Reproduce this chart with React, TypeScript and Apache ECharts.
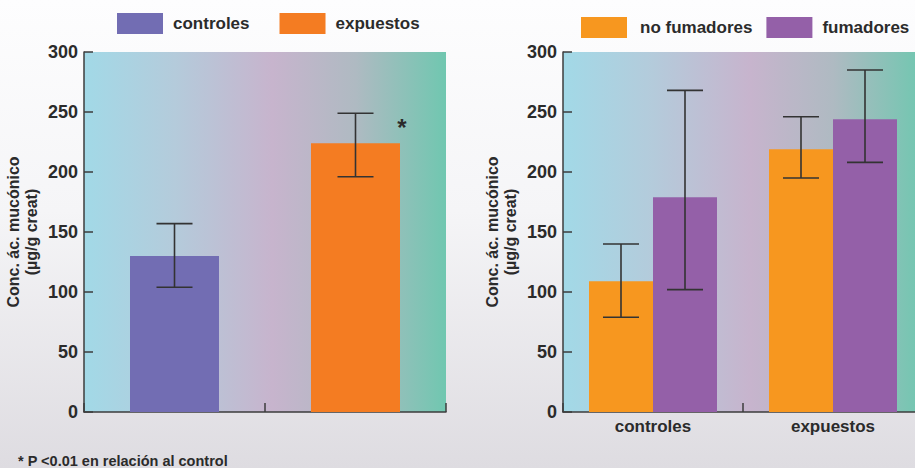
import React, { useEffect, useRef } from "react";
import * as echarts from "echarts";

// Left chart data
const leftCategories = ["controles", "expuestos"];
const leftMeans = [130, 224];
const leftLow = [104, 196];
const leftHigh = [157, 249];

// Right chart data
const rightCategories = ["controles", "expuestos"];
const noFumMeans = [109, 219];
const noFumLow = [79, 195];
const noFumHigh = [140, 246];
const fumMeans = [179, 244];
const fumLow = [102, 208];
const fumHigh = [268, 285];

const yTicks = { min: 0, max: 300, interval: 50 };

const FONT = "'Liberation Sans', Arial, Helvetica, sans-serif";
const TEXT = "#2b2b2b";
const AXIS = "#3c3c3c";

const C_CONTROL = "#726db3";
const C_EXP = "#f47c22";
const C_NOFUM = "#f7971f";
const C_FUM = "#9460a8";

function plotGradient() {
  return new echarts.graphic.LinearGradient(0, 0, 1, 0, [
    { offset: 0, color: "#a2d9e7" },
    { offset: 0.25, color: "#b4cbdb" },
    { offset: 0.52, color: "#c7b4cd" },
    { offset: 0.75, color: "#afbac2" },
    { offset: 1, color: "#70c7b0" },
  ]);
}

function errorRender(offset: number) {
  return (params: any, api: any) => {
    const cat = api.value(0);
    const lo = api.coord([cat, api.value(1)]);
    const hi = api.coord([cat, api.value(2)]);
    const x = lo[0] + offset;
    const half = 18;
    const style = { stroke: "#333333", lineWidth: 1.6 };
    return {
      type: "group",
      children: [
        { type: "line", shape: { x1: x, y1: lo[1], x2: x, y2: hi[1] }, style },
        { type: "line", shape: { x1: x - half, y1: hi[1], x2: x + half, y2: hi[1] }, style },
        { type: "line", shape: { x1: x - half, y1: lo[1], x2: x + half, y2: lo[1] }, style },
      ],
    };
  };
}

function yAxisFor(gridIndex: number) {
  return {
    type: "value",
    gridIndex,
    min: yTicks.min,
    max: yTicks.max,
    interval: yTicks.interval,
    name: "Conc. ác. mucónico\n(µg/g creat)",
    nameLocation: "middle",
    nameRotate: 90,
    nameGap: 44,
    nameTextStyle: {
      color: TEXT,
      fontFamily: FONT,
      fontWeight: "bold",
      fontSize: 16,
      lineHeight: 18,
    },
    axisLine: { show: true, lineStyle: { color: AXIS, width: 1.5 } },
    axisTick: { show: true, inside: true, length: 9, lineStyle: { color: AXIS, width: 1.5 } },
    splitLine: { show: false },
    axisLabel: {
      color: TEXT,
      fontFamily: FONT,
      fontWeight: "bold",
      fontSize: 18,
      margin: 6,
    },
  };
}

function xAxisFor(gridIndex: number, data: string[], showLabels: boolean) {
  return {
    type: "category",
    gridIndex,
    data,
    boundaryGap: true,
    axisLine: { show: true, lineStyle: { color: AXIS, width: 1.5 } },
    axisTick: { show: true, inside: true, length: 9, interval: 0, lineStyle: { color: AXIS, width: 1.5 } },
    axisLabel: {
      show: showLabels,
      color: TEXT,
      fontFamily: FONT,
      fontWeight: "bold",
      fontSize: 17,
      margin: 6,
      interval: 0,
    },
    splitLine: { show: false },
  };
}

export default function App() {
  const ref = useRef<HTMLDivElement>(null);

  useEffect(() => {
    if (!ref.current) return;
    const chart = echarts.init(ref.current, undefined, { renderer: "svg" });

    const legendText = {
      color: TEXT,
      fontFamily: FONT,
      fontWeight: "bold",
      fontSize: 17,
      padding: [0, 0, 0, 5],
    };

    const option: any = {
      animation: false,
      backgroundColor: new echarts.graphic.LinearGradient(0, 0, 0, 1, [
        { offset: 0, color: "#fdfdfe" },
        { offset: 0.45, color: "#f5f5f7" },
        { offset: 1, color: "#dedce1" },
      ]),
      legend: [
        {
          data: ["controles", "expuestos"],
          left: 117,
          top: 13,
          padding: 0,
          width: 400,
          itemWidth: 46,
          itemHeight: 21,
          itemGap: 30,
          icon: "rect",
          textStyle: legendText,
        },
        {
          data: [
            { name: "no fumadores", textStyle: { padding: [0, 0, 0, 8] } },
            { name: "fumadores", textStyle: { padding: [0, 0, 0, 5] } },
          ],
          left: 581,
          top: 17,
          padding: 0,
          width: 400,
          itemWidth: 46,
          itemHeight: 21,
          itemGap: 14,
          icon: "rect",
          textStyle: legendText,
        },
      ],
      grid: [
        {
          left: 84,
          top: 52,
          width: 362,
          height: 360,
          show: true,
          borderWidth: 0,
          backgroundColor: plotGradient(),
        },
        {
          left: 563,
          top: 52,
          width: 360,
          height: 360,
          show: true,
          borderWidth: 0,
          backgroundColor: plotGradient(),
        },
      ],
      xAxis: [xAxisFor(0, leftCategories, false), xAxisFor(1, rightCategories, true)],
      yAxis: [yAxisFor(0), yAxisFor(1)],
      series: [
        {
          name: "controles",
          type: "bar",
          xAxisIndex: 0,
          yAxisIndex: 0,
          barWidth: 89,
          barGap: "-100%",
          itemStyle: { color: C_CONTROL },
          data: [leftMeans[0], "-"],
        },
        {
          name: "expuestos",
          type: "bar",
          xAxisIndex: 0,
          yAxisIndex: 0,
          barWidth: 89,
          barGap: "-100%",
          itemStyle: { color: C_EXP },
          label: {
            show: true,
            formatter: "*",
            position: [91, -16],
            align: "center",
            verticalAlign: "middle",
            color: TEXT,
            fontFamily: FONT,
            fontWeight: "bold",
            fontSize: 24,
          },
          data: ["-", leftMeans[1]],
        },
        {
          name: "leftErr",
          type: "custom",
          xAxisIndex: 0,
          yAxisIndex: 0,
          z: 5,
          renderItem: errorRender(0),
          encode: { x: 0, y: [1, 2] },
          data: leftCategories.map((_, i) => [i, leftLow[i], leftHigh[i]]),
        },
        {
          name: "no fumadores",
          type: "bar",
          xAxisIndex: 1,
          yAxisIndex: 1,
          barWidth: 64,
          barGap: "0%",
          itemStyle: { color: C_NOFUM },
          data: noFumMeans,
        },
        {
          name: "fumadores",
          type: "bar",
          xAxisIndex: 1,
          yAxisIndex: 1,
          barWidth: 64,
          barGap: "0%",
          itemStyle: { color: C_FUM },
          data: fumMeans,
        },
        {
          name: "noFumErr",
          type: "custom",
          xAxisIndex: 1,
          yAxisIndex: 1,
          z: 5,
          renderItem: errorRender(-32),
          encode: { x: 0, y: [1, 2] },
          data: rightCategories.map((_, i) => [i, noFumLow[i], noFumHigh[i]]),
        },
        {
          name: "fumErr",
          type: "custom",
          xAxisIndex: 1,
          yAxisIndex: 1,
          z: 5,
          renderItem: errorRender(32),
          encode: { x: 0, y: [1, 2] },
          data: rightCategories.map((_, i) => [i, fumLow[i], fumHigh[i]]),
        },
      ],
      graphic: [
        {
          type: "text",
          left: 18,
          top: 453,
          style: {
            text: "* P <0.01 en relación al control",
            fill: TEXT,
            font: `bold 14.5px ${FONT}`,
          },
        },
      ],
    };

    chart.setOption(option);
    return () => chart.dispose();
  }, []);

  return (
    <div
      style={{
        position: "absolute",
        left: 0,
        top: 0,
        width: 915,
        height: 468,
        overflow: "hidden",
      }}
    >
      <div ref={ref} style={{ width: 940, height: 468 }} />
    </div>
  );
}
